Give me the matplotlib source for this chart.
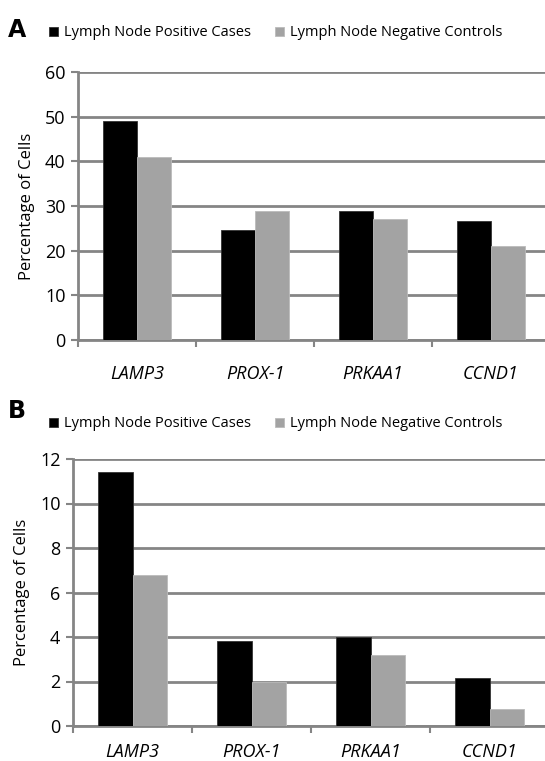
import matplotlib
matplotlib.use('Agg')
import matplotlib.pyplot as plt
import numpy as np

genes = ['LAMP3', 'PROX-1', 'PRKAA1', 'CCND1']
series = ['Lymph Node Positive Cases', 'Lymph Node Negative Controls']

# panel A
pos_a = [49.0, 24.7, 28.9, 26.7]
neg_a = [40.9, 28.9, 27.0, 21.0]
# panel B
pos_b = [11.4, 3.8, 4.0, 2.15]
neg_b = [6.8, 2.0, 3.2, 0.75]

plt.rcParams['font.family'] = ['Open Sans', 'DejaVu Sans']
W, H = 545, 761
fig = plt.figure(figsize=(W / 100, H / 100), dpi=100)

grid_c = '#858585'
gray_bar = '#a3a3a3'
bw = 0.286


def panel(rect, pos, neg, ymax, step, letter, letter_xy, leg_y, xpad):
    ax = fig.add_axes(rect)
    x = np.arange(len(genes))
    b1 = ax.bar(x - bw / 2, pos, bw, color='black', edgecolor='#333333', linewidth=0.6, zorder=3,
                label=series[0])
    b2 = ax.bar(x + bw / 2, neg, bw, color=gray_bar, edgecolor='#bbbbbb', linewidth=0.6, zorder=3,
                label=series[1])
    ax.set_xlim(-0.5, len(genes) - 0.5)
    ax.set_ylim(0, ymax)
    ax.set_yticks(np.arange(0, ymax + 0.01, step))
    ax.yaxis.grid(True, color=grid_c, linewidth=2.0, zorder=0)
    ax.set_axisbelow(True)
    for s in ['top', 'right']:
        ax.spines[s].set_visible(False)
    ax.spines['left'].set_color(grid_c)
    ax.spines['left'].set_linewidth(2.0)
    ax.spines['bottom'].set_color(grid_c)
    ax.spines['bottom'].set_linewidth(2.0)
    ax.set_xticks(x)
    ax.set_xticklabels(genes, style='italic', fontsize=13)
    ax.set_xticks(np.arange(-0.5, len(genes), 1.0), minor=True)
    ax.tick_params(axis='x', which='major', length=0, pad=xpad)
    ax.tick_params(axis='x', which='minor', length=5, width=1.5, color=grid_c, direction='out')
    ax.tick_params(axis='y', length=5, width=1.5, color=grid_c, labelsize=13, pad=4)
    ax.set_ylabel('Percentage of Cells', fontsize=12, labelpad=7)
    fig.text(letter_xy[0] / W, 1 - letter_xy[1] / H, letter, fontsize=17, fontweight='bold',
             family='DejaVu Sans', ha='left', va='center')
    fig.legend(handles=[b1, b2], loc='center left', bbox_to_anchor=(36 / W, 1 - leg_y / H),
               ncol=2, frameon=False, fontsize=10.5, handlelength=0.6, handleheight=0.6,
               handletextpad=0.45, columnspacing=1.6)
    return ax


panel([78 / W, 1 - 340 / H, 472 / W, 268 / H], pos_a, neg_a, 60, 10, 'A', (8, 30), 33, 18)
panel([73 / W, 1 - 726 / H, 476 / W, 267 / H], pos_b, neg_b, 12, 2, 'B', (8, 411), 424, 12)

fig.savefig('out.png', dpi=100)
